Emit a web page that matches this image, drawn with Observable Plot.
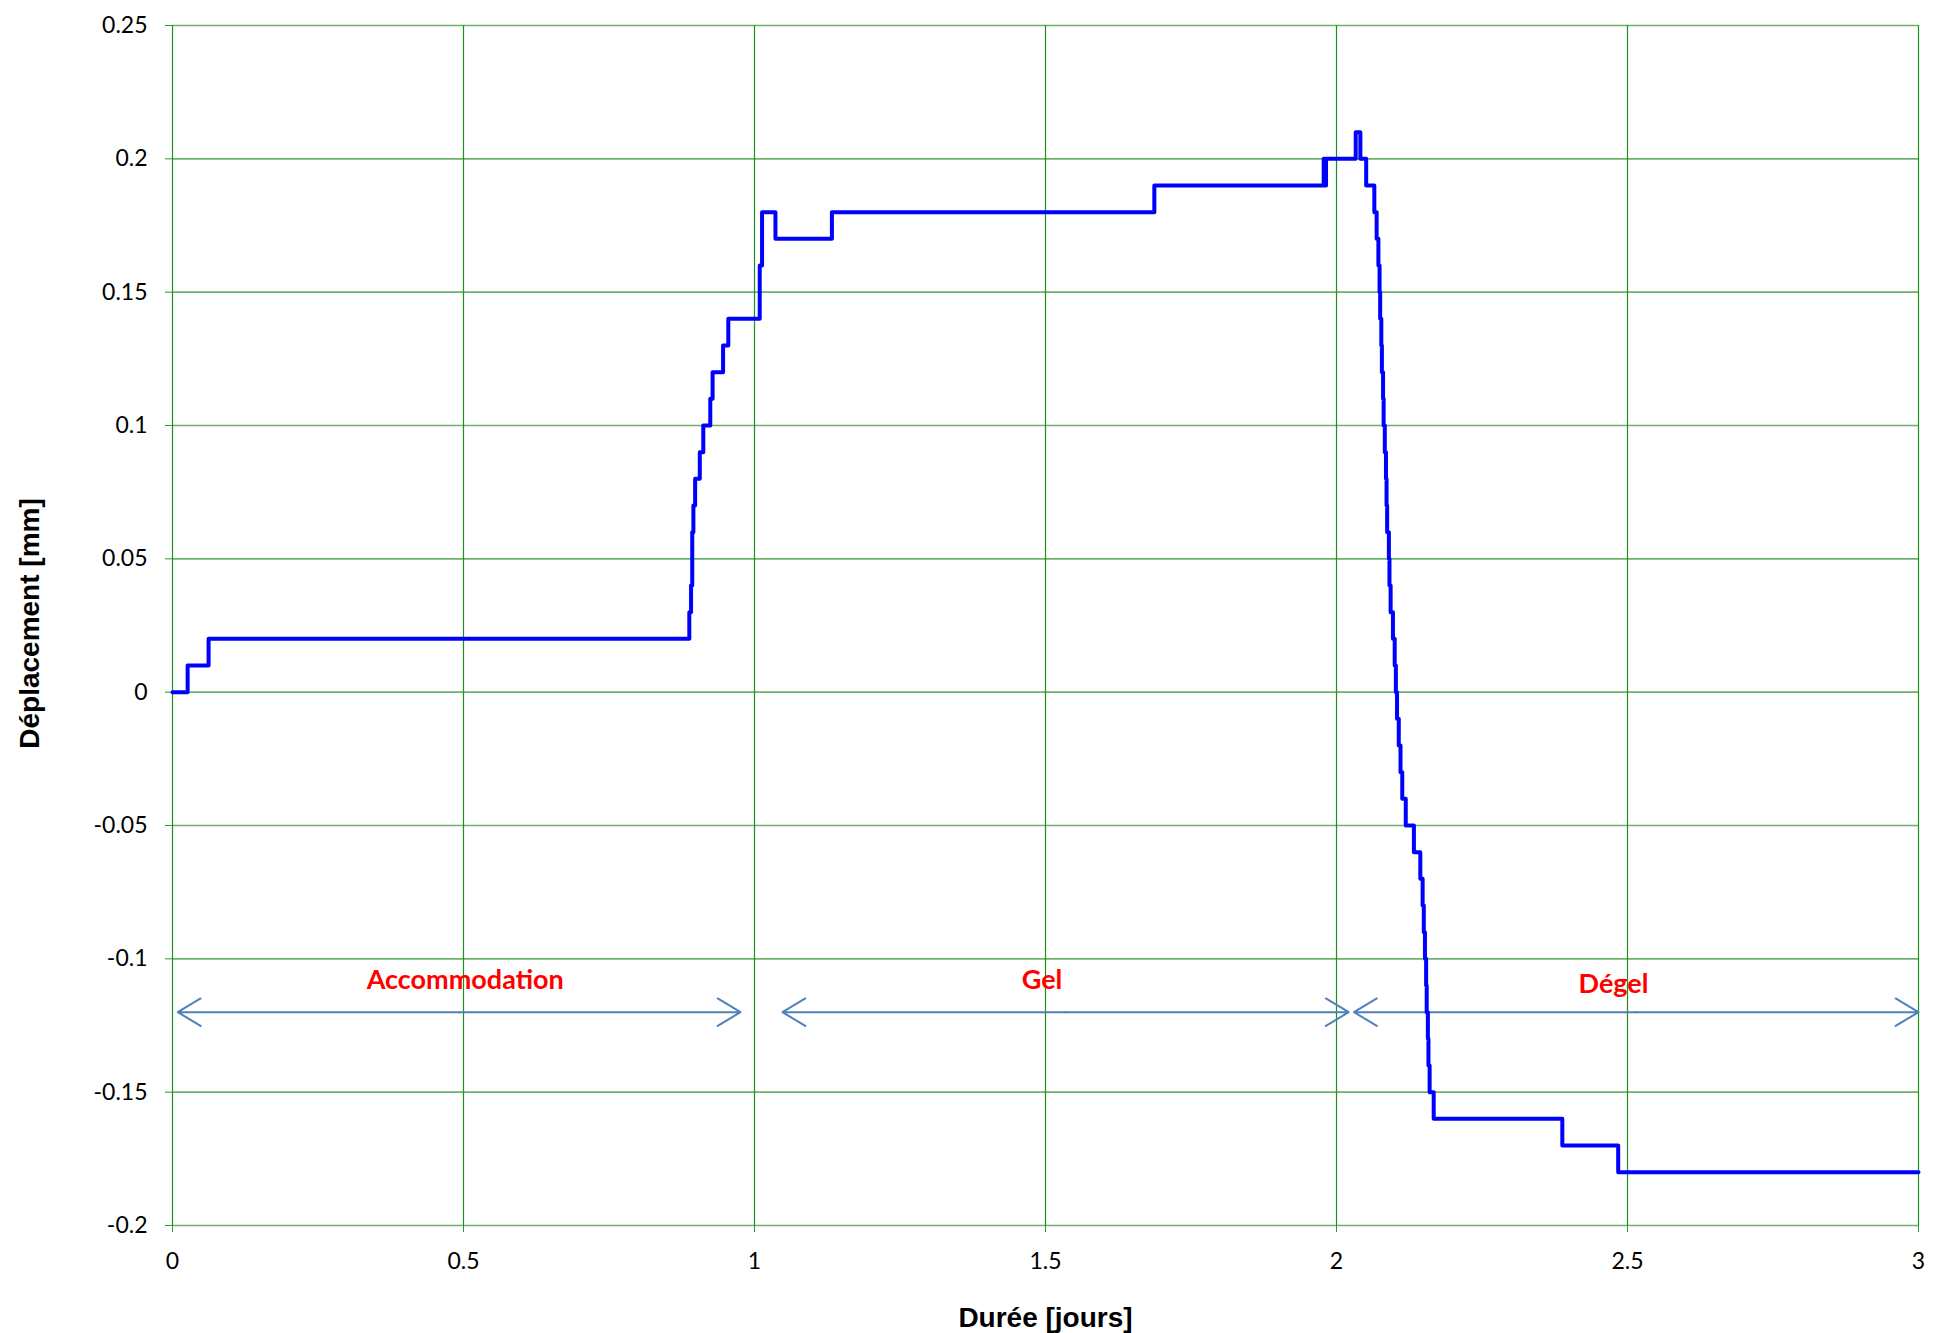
<!DOCTYPE html>
<html>
<head>
<meta charset="utf-8">
<script src="https://cdn.jsdelivr.net/npm/d3@7"></script>
<script src="https://cdn.jsdelivr.net/npm/@observablehq/plot@0.6"></script>
<style>
  html, body { margin: 0; padding: 0; background: #fff; }
  #chart svg { display: block; }
</style>
</head>
<body>
<div id="chart"></div>
<script>
// Durée [jours]
const time = [
  0, 0.026, 0.062, 0.888, 0.891, 0.893, 0.895, 0.898, 0.906, 0.912, 0.924, 0.928, 0.946, 0.955,
  1.009, 1.013, 1.036, 1.133, 1.687, 1.978, 1.980, 1.982, 2.033, 2.041, 2.051, 2.065, 2.069,
  2.072, 2.074, 2.075, 2.077, 2.078, 2.080, 2.081, 2.083, 2.085, 2.086, 2.087, 2.090, 2.091,
  2.093, 2.097, 2.100, 2.102, 2.104, 2.107, 2.110, 2.113, 2.119, 2.133, 2.144, 2.148, 2.150,
  2.152, 2.154, 2.155, 2.157, 2.158, 2.160, 2.167, 2.388, 2.484, 3.0
];
// Déplacement [mm]
const displacement = [
  0, 0.01, 0.02, 0.03, 0.04, 0.06, 0.07, 0.08, 0.09, 0.10, 0.11, 0.12, 0.13, 0.14,
  0.16, 0.18, 0.17, 0.18, 0.19, 0.20, 0.19, 0.20, 0.21, 0.20, 0.19, 0.18, 0.17,
  0.16, 0.15, 0.14, 0.13, 0.12, 0.11, 0.10, 0.09, 0.08, 0.07, 0.06, 0.05, 0.04,
  0.03, 0.02, 0.01, 0.00, -0.01, -0.02, -0.03, -0.04, -0.05, -0.06, -0.07, -0.08, -0.09,
  -0.10, -0.11, -0.12, -0.13, -0.14, -0.15, -0.16, -0.17, -0.18, -0.18
];

const phaseLabels = ["Accommodation", "Gel", "Dégel"];
const phaseStart = [0.009, 1.048, 2.030];
const phaseEnd = [0.976, 2.021, 3.0];
const phaseLabelX = [0.503, 1.494, 2.476];
const phaseLabelY = [-0.1112, -0.1112, -0.1127];
const phaseArrowY = -0.12;

const xTicks = [0, 0.5, 1, 1.5, 2, 2.5, 3];
const yTicks = [-0.2, -0.15, -0.1, -0.05, 0, 0.05, 0.1, 0.15, 0.2, 0.25];

const series = time.map((t, i) => ({t, d: displacement[i]}));
const phases = phaseLabels.map((label, i) => ({
  label, start: phaseStart[i], end: phaseEnd[i], lx: phaseLabelX[i], ly: phaseLabelY[i],
  mid: (phaseStart[i] + phaseEnd[i]) / 2
}));
const arrowHalves = phases.flatMap(p => [
  {x1: p.mid, x2: p.start}, {x1: p.mid, x2: p.end}
]);

const chart = Plot.plot({
  width: 1941,
  height: 1333,
  marginLeft: 172,
  marginRight: 23,
  marginTop: 25,
  marginBottom: 108,
  style: {fontFamily: "Lato, sans-serif", fontSize: "23px", background: "#fff"},
  x: {domain: [0, 3]},
  y: {domain: [-0.2, 0.25]},
  marks: [
    Plot.ruleY(yTicks, {stroke: "#3a9a3a", strokeWidth: 1.6, strokeOpacity: 0.75}),
    Plot.ruleX(xTicks, {stroke: "#1f8f1f", strokeWidth: 1.2}),
    Plot.axisY({ticks: yTicks, tickFormat: d => String(d), tickSize: 7, tickPadding: 18,
      stroke: "#2a9a2a", fill: "#000", label: null, fontSize: 23}),
    Plot.axisX({ticks: xTicks, tickFormat: d => String(d), tickSize: 7, tickPadding: 20,
      stroke: "#2a9a2a", fill: "#000", label: null, fontSize: 23}),
    Plot.arrow(arrowHalves, {x1: "x1", x2: "x2", y1: phaseArrowY, y2: phaseArrowY,
      stroke: "#4f81bd", strokeWidth: 2, headLength: 20, headAngle: 62, inset: 0}),
    Plot.text(phases, {x: "lx", y: "ly", text: "label", fill: "#ff0000",
      fontWeight: "bold", fontSize: 27, fontFamily: "Lato, sans-serif", lineAnchor: "bottom"}),
    Plot.line(series, {x: "t", y: "d", curve: "step-after", stroke: "#0000ff", strokeWidth: 4}),
    Plot.text(["Durée [jours]"], {frameAnchor: "bottom", dy: 101, lineAnchor: "bottom",
      fontWeight: "bold", fontSize: 28, fontFamily: "'Liberation Sans', Arial, sans-serif", fill: "#000"}),
    Plot.text(["Déplacement [mm]"], {frameAnchor: "left", dx: -142, dy: -2, rotate: -90,
      textAnchor: "middle", lineAnchor: "middle",
      fontWeight: "bold", fontSize: 28, fontFamily: "'Liberation Sans', Arial, sans-serif", fill: "#000"})
  ]
});
document.getElementById("chart").appendChild(chart);
</script>
</body>
</html>
